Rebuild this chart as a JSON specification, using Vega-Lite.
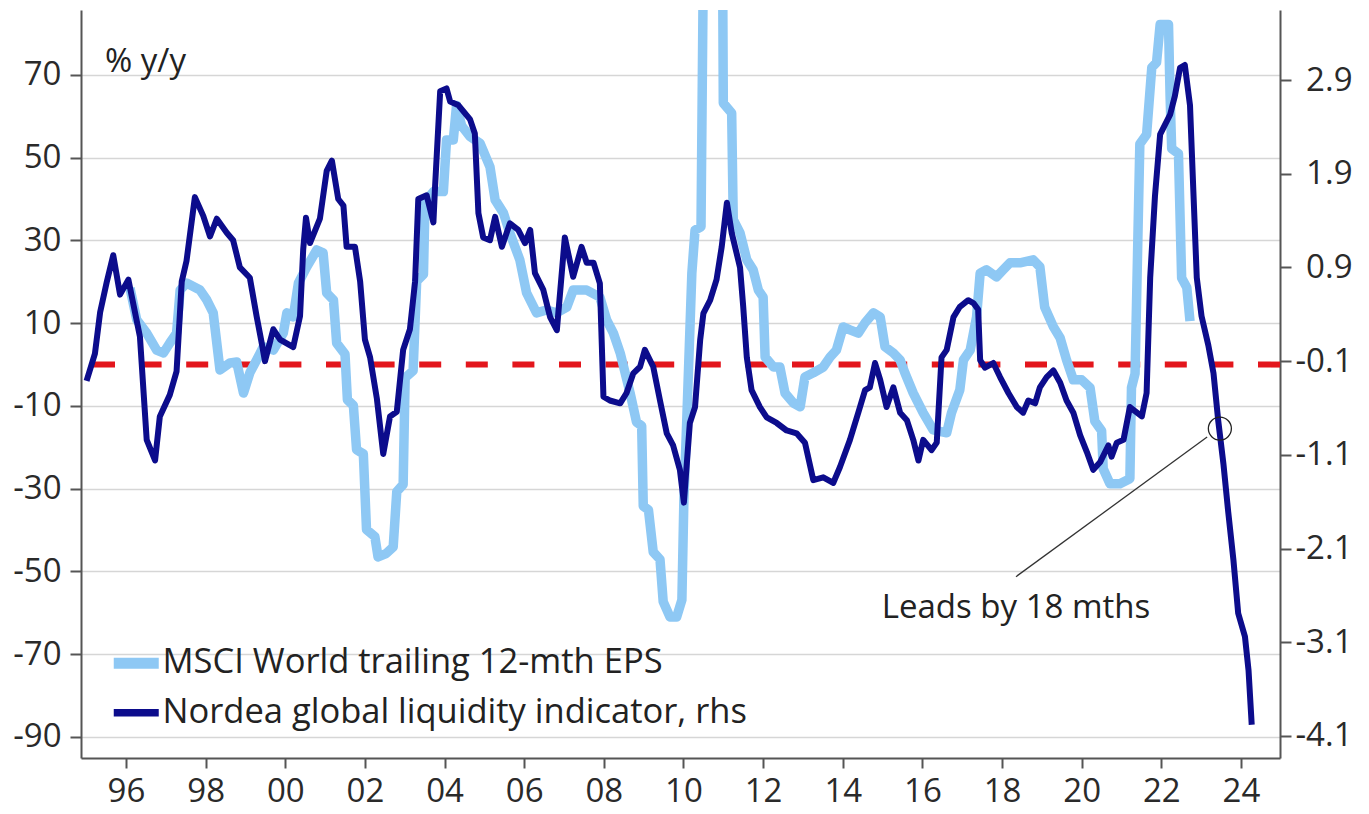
{
  "$schema": "https://vega.github.io/schema/vega-lite/v6.json",
  "width": 1199,
  "height": 748,
  "autosize": "none",
  "padding": {"left": 81, "top": 10, "right": 89, "bottom": 56},
  "background": "white",
  "config": {
    "view": {"stroke": null},
    "font": "Open Sans",
    "axis": {
      "labelFont": "Open Sans", "labelFontSize": 33, "labelColor": "#2a2a2a",
      "domainColor": "#555555", "domainWidth": 2, "tickColor": "#555555", "tickWidth": 2,
      "gridColor": "#d6d6d6", "gridWidth": 1.5, "title": null
    }
  },
  "datasets": {
    "main": [
      {"s":"liq","t":1995.01,"v":-0.31},{"s":"liq","t":1995.22,"v":-0.02},{"s":"liq","t":1995.35,"v":0.42},{"s":"liq","t":1995.52,"v":0.75},{"s":"liq","t":1995.68,"v":1.03},{"s":"liq","t":1995.85,"v":0.61},{"s":"liq","t":1996.06,"v":0.77},{"s":"liq","t":1996.35,"v":0.16},{"s":"liq","t":1996.52,"v":-0.94},{"s":"liq","t":1996.73,"v":-1.16},{"s":"liq","t":1996.85,"v":-0.69},{"s":"liq","t":1997.10,"v":-0.46},{"s":"liq","t":1997.27,"v":-0.21},{"s":"liq","t":1997.40,"v":0.75},{"s":"liq","t":1997.52,"v":0.97},{"s":"liq","t":1997.73,"v":1.65},{"s":"liq","t":1997.94,"v":1.45},{"s":"liq","t":1998.11,"v":1.23},{"s":"liq","t":1998.28,"v":1.42},{"s":"liq","t":1998.53,"v":1.27},{"s":"liq","t":1998.69,"v":1.19},{"s":"liq","t":1998.86,"v":0.90},{"s":"liq","t":1999.11,"v":0.79},{"s":"liq","t":1999.28,"v":0.38},{"s":"liq","t":1999.41,"v":0.09},{"s":"liq","t":1999.49,"v":-0.10},{"s":"liq","t":1999.70,"v":0.24},{"s":"liq","t":1999.87,"v":0.13},{"s":"liq","t":2000.20,"v":0.05},{"s":"liq","t":2000.37,"v":0.38},{"s":"liq","t":2000.45,"v":1.09},{"s":"liq","t":2000.52,"v":1.43},{"s":"liq","t":2000.62,"v":1.16},{"s":"liq","t":2000.87,"v":1.42},{"s":"liq","t":2001.04,"v":1.93},{"s":"liq","t":2001.17,"v":2.04},{"s":"liq","t":2001.33,"v":1.63},{"s":"liq","t":2001.46,"v":1.56},{"s":"liq","t":2001.54,"v":1.12},{"s":"liq","t":2001.75,"v":1.12},{"s":"liq","t":2001.88,"v":0.75},{"s":"liq","t":2002.00,"v":0.13},{"s":"liq","t":2002.13,"v":-0.06},{"s":"liq","t":2002.30,"v":-0.50},{"s":"liq","t":2002.46,"v":-1.09},{"s":"liq","t":2002.63,"v":-0.69},{"s":"liq","t":2002.80,"v":-0.64},{"s":"liq","t":2002.96,"v":0.02},{"s":"liq","t":2003.13,"v":0.24},{"s":"liq","t":2003.26,"v":0.75},{"s":"liq","t":2003.34,"v":1.63},{"s":"liq","t":2003.55,"v":1.67},{"s":"liq","t":2003.72,"v":1.38},{"s":"liq","t":2003.76,"v":1.75},{"s":"liq","t":2003.89,"v":2.78},{"s":"liq","t":2004.05,"v":2.81},{"s":"liq","t":2004.14,"v":2.67},{"s":"liq","t":2004.35,"v":2.63},{"s":"liq","t":2004.64,"v":2.48},{"s":"liq","t":2004.76,"v":2.33},{"s":"liq","t":2004.85,"v":1.48},{"s":"liq","t":2004.97,"v":1.22},{"s":"liq","t":2005.14,"v":1.19},{"s":"liq","t":2005.27,"v":1.44},{"s":"liq","t":2005.44,"v":1.12},{"s":"liq","t":2005.64,"v":1.37},{"s":"liq","t":2005.85,"v":1.30},{"s":"liq","t":2006.02,"v":1.16},{"s":"liq","t":2006.15,"v":1.30},{"s":"liq","t":2006.27,"v":0.84},{"s":"liq","t":2006.48,"v":0.66},{"s":"liq","t":2006.65,"v":0.37},{"s":"liq","t":2006.82,"v":0.23},{"s":"liq","t":2007.02,"v":1.22},{"s":"liq","t":2007.23,"v":0.80},{"s":"liq","t":2007.44,"v":1.12},{"s":"liq","t":2007.57,"v":0.95},{"s":"liq","t":2007.74,"v":0.95},{"s":"liq","t":2007.90,"v":0.73},{"s":"liq","t":2007.99,"v":-0.48},{"s":"liq","t":2008.15,"v":-0.52},{"s":"liq","t":2008.41,"v":-0.55},{"s":"liq","t":2008.57,"v":-0.44},{"s":"liq","t":2008.74,"v":-0.23},{"s":"liq","t":2008.91,"v":-0.16},{"s":"liq","t":2009.03,"v":0.02},{"s":"liq","t":2009.24,"v":-0.16},{"s":"liq","t":2009.41,"v":-0.52},{"s":"liq","t":2009.58,"v":-0.87},{"s":"liq","t":2009.74,"v":-1.00},{"s":"liq","t":2009.91,"v":-1.26},{"s":"liq","t":2010.01,"v":-1.61},{"s":"liq","t":2010.16,"v":-0.76},{"s":"liq","t":2010.29,"v":-0.59},{"s":"liq","t":2010.42,"v":0.13},{"s":"liq","t":2010.50,"v":0.41},{"s":"liq","t":2010.67,"v":0.55},{"s":"liq","t":2010.83,"v":0.77},{"s":"liq","t":2010.96,"v":1.12},{"s":"liq","t":2011.09,"v":1.59},{"s":"liq","t":2011.21,"v":1.27},{"s":"liq","t":2011.42,"v":0.90},{"s":"liq","t":2011.50,"v":0.48},{"s":"liq","t":2011.59,"v":-0.06},{"s":"liq","t":2011.71,"v":-0.41},{"s":"liq","t":2011.92,"v":-0.59},{"s":"liq","t":2012.09,"v":-0.70},{"s":"liq","t":2012.34,"v":-0.76},{"s":"liq","t":2012.59,"v":-0.84},{"s":"liq","t":2012.84,"v":-0.87},{"s":"liq","t":2013.05,"v":-0.97},{"s":"liq","t":2013.26,"v":-1.37},{"s":"liq","t":2013.51,"v":-1.34},{"s":"liq","t":2013.76,"v":-1.40},{"s":"liq","t":2013.93,"v":-1.23},{"s":"liq","t":2014.18,"v":-0.94},{"s":"liq","t":2014.39,"v":-0.65},{"s":"liq","t":2014.56,"v":-0.41},{"s":"liq","t":2014.68,"v":-0.38},{"s":"liq","t":2014.81,"v":-0.12},{"s":"liq","t":2014.94,"v":-0.30},{"s":"liq","t":2015.10,"v":-0.59},{"s":"liq","t":2015.27,"v":-0.38},{"s":"liq","t":2015.44,"v":-0.65},{"s":"liq","t":2015.61,"v":-0.73},{"s":"liq","t":2015.77,"v":-0.94},{"s":"liq","t":2015.90,"v":-1.16},{"s":"liq","t":2016.02,"v":-0.94},{"s":"liq","t":2016.23,"v":-1.05},{"s":"liq","t":2016.36,"v":-0.97},{"s":"liq","t":2016.48,"v":-0.06},{"s":"liq","t":2016.61,"v":0.02},{"s":"liq","t":2016.78,"v":0.37},{"s":"liq","t":2016.94,"v":0.48},{"s":"liq","t":2017.15,"v":0.55},{"s":"liq","t":2017.28,"v":0.52},{"s":"liq","t":2017.40,"v":0.45},{"s":"liq","t":2017.45,"v":-0.09},{"s":"liq","t":2017.57,"v":-0.17},{"s":"liq","t":2017.78,"v":-0.12},{"s":"liq","t":2017.95,"v":-0.27},{"s":"liq","t":2018.16,"v":-0.44},{"s":"liq","t":2018.37,"v":-0.59},{"s":"liq","t":2018.53,"v":-0.65},{"s":"liq","t":2018.66,"v":-0.52},{"s":"liq","t":2018.83,"v":-0.55},{"s":"liq","t":2018.95,"v":-0.38},{"s":"liq","t":2019.12,"v":-0.27},{"s":"liq","t":2019.29,"v":-0.20},{"s":"liq","t":2019.46,"v":-0.33},{"s":"liq","t":2019.62,"v":-0.52},{"s":"liq","t":2019.79,"v":-0.65},{"s":"liq","t":2019.96,"v":-0.89},{"s":"liq","t":2020.13,"v":-1.07},{"s":"liq","t":2020.29,"v":-1.26},{"s":"liq","t":2020.46,"v":-1.18},{"s":"liq","t":2020.67,"v":-1.00},{"s":"liq","t":2020.75,"v":-1.12},{"s":"liq","t":2020.88,"v":-0.97},{"s":"liq","t":2021.05,"v":-0.94},{"s":"liq","t":2021.21,"v":-0.59},{"s":"liq","t":2021.51,"v":-0.69},{"s":"liq","t":2021.63,"v":-0.44},{"s":"liq","t":2021.72,"v":0.79},{"s":"liq","t":2021.84,"v":1.66},{"s":"liq","t":2021.97,"v":2.32},{"s":"liq","t":2022.09,"v":2.42},{"s":"liq","t":2022.22,"v":2.53},{"s":"liq","t":2022.34,"v":2.73},{"s":"liq","t":2022.47,"v":3.03},{"s":"liq","t":2022.59,"v":3.06},{"s":"liq","t":2022.72,"v":2.63},{"s":"liq","t":2022.80,"v":1.76},{"s":"liq","t":2022.89,"v":0.79},{"s":"liq","t":2023.01,"v":0.38},{"s":"liq","t":2023.18,"v":0.07},{"s":"liq","t":2023.31,"v":-0.23},{"s":"liq","t":2023.43,"v":-0.74},{"s":"liq","t":2023.56,"v":-1.20},{"s":"liq","t":2023.68,"v":-1.71},{"s":"liq","t":2023.81,"v":-2.22},{"s":"liq","t":2023.93,"v":-2.79},{"s":"liq","t":2024.10,"v":-3.04},{"s":"liq","t":2024.19,"v":-3.40},{"s":"liq","t":2024.27,"v":-3.98},
      {"s":"eps","t":1996.10,"v":18.5},{"s":"eps","t":1996.27,"v":10.8},{"s":"eps","t":1996.52,"v":7.6},{"s":"eps","t":1996.77,"v":3.5},{"s":"eps","t":1996.94,"v":2.8},{"s":"eps","t":1997.10,"v":5.2},{"s":"eps","t":1997.27,"v":7.6},{"s":"eps","t":1997.36,"v":18.0},{"s":"eps","t":1997.52,"v":19.7},{"s":"eps","t":1997.86,"v":18.0},{"s":"eps","t":1998.03,"v":15.6},{"s":"eps","t":1998.19,"v":12.5},{"s":"eps","t":1998.36,"v":-1.3},{"s":"eps","t":1998.61,"v":0.4},{"s":"eps","t":1998.78,"v":0.6},{"s":"eps","t":1998.95,"v":-6.9},{"s":"eps","t":1999.11,"v":-2.0},{"s":"eps","t":1999.28,"v":1.1},{"s":"eps","t":1999.45,"v":4.3},{"s":"eps","t":1999.70,"v":3.5},{"s":"eps","t":1999.95,"v":7.6},{"s":"eps","t":2000.04,"v":12.5},{"s":"eps","t":2000.20,"v":11.5},{"s":"eps","t":2000.33,"v":19.7},{"s":"eps","t":2000.54,"v":23.6},{"s":"eps","t":2000.79,"v":27.7},{"s":"eps","t":2000.95,"v":27.0},{"s":"eps","t":2001.04,"v":17.3},{"s":"eps","t":2001.21,"v":15.6},{"s":"eps","t":2001.29,"v":5.2},{"s":"eps","t":2001.50,"v":2.5},{"s":"eps","t":2001.56,"v":-8.5},{"s":"eps","t":2001.71,"v":-9.9},{"s":"eps","t":2001.79,"v":-20.6},{"s":"eps","t":2001.96,"v":-21.6},{"s":"eps","t":2002.04,"v":-39.9},{"s":"eps","t":2002.25,"v":-41.6},{"s":"eps","t":2002.33,"v":-46.5},{"s":"eps","t":2002.53,"v":-45.7},{"s":"eps","t":2002.71,"v":-44.1},{"s":"eps","t":2002.80,"v":-30.7},{"s":"eps","t":2002.96,"v":-29.0},{"s":"eps","t":2003.01,"v":-3.2},{"s":"eps","t":2003.21,"v":-1.5},{"s":"eps","t":2003.30,"v":20.2},{"s":"eps","t":2003.47,"v":21.8},{"s":"eps","t":2003.51,"v":39.3},{"s":"eps","t":2003.72,"v":41.8},{"s":"eps","t":2003.97,"v":41.8},{"s":"eps","t":2004.05,"v":54.3},{"s":"eps","t":2004.22,"v":54.3},{"s":"eps","t":2004.30,"v":62.6},{"s":"eps","t":2004.43,"v":57.7},{"s":"eps","t":2004.64,"v":55.1},{"s":"eps","t":2004.89,"v":53.5},{"s":"eps","t":2005.14,"v":47.8},{"s":"eps","t":2005.27,"v":39.8},{"s":"eps","t":2005.48,"v":36.6},{"s":"eps","t":2005.64,"v":31.8},{"s":"eps","t":2005.89,"v":25.3},{"s":"eps","t":2006.06,"v":17.3},{"s":"eps","t":2006.31,"v":12.5},{"s":"eps","t":2006.56,"v":13.2},{"s":"eps","t":2006.81,"v":12.5},{"s":"eps","t":2007.07,"v":13.9},{"s":"eps","t":2007.23,"v":18.0},{"s":"eps","t":2007.57,"v":18.0},{"s":"eps","t":2007.90,"v":16.3},{"s":"eps","t":2008.07,"v":10.8},{"s":"eps","t":2008.24,"v":7.6},{"s":"eps","t":2008.41,"v":2.8},{"s":"eps","t":2008.66,"v":-6.9},{"s":"eps","t":2008.82,"v":-13.9},{"s":"eps","t":2008.95,"v":-14.8},{"s":"eps","t":2008.99,"v":-34.2},{"s":"eps","t":2009.12,"v":-35.1},{"s":"eps","t":2009.24,"v":-45.3},{"s":"eps","t":2009.41,"v":-47.1},{"s":"eps","t":2009.49,"v":-57.3},{"s":"eps","t":2009.66,"v":-61.0},{"s":"eps","t":2009.83,"v":-61.0},{"s":"eps","t":2009.96,"v":-56.9},{"s":"eps","t":2010.01,"v":-32.7},{"s":"eps","t":2010.08,"v":-14.1},{"s":"eps","t":2010.21,"v":22.1},{"s":"eps","t":2010.29,"v":32.5},{"s":"eps","t":2010.44,"v":33.3},{"s":"eps","t":2010.52,"v":120},{"s":"eps","t":2010.97,"v":120},{"s":"eps","t":2011.00,"v":63.2},{"s":"eps","t":2011.21,"v":60.8},{"s":"eps","t":2011.25,"v":35.0},{"s":"eps","t":2011.42,"v":31.8},{"s":"eps","t":2011.59,"v":25.3},{"s":"eps","t":2011.75,"v":22.9},{"s":"eps","t":2011.88,"v":18.0},{"s":"eps","t":2012.00,"v":16.3},{"s":"eps","t":2012.05,"v":1.8},{"s":"eps","t":2012.26,"v":-0.6},{"s":"eps","t":2012.42,"v":-0.6},{"s":"eps","t":2012.55,"v":-6.9},{"s":"eps","t":2012.76,"v":-9.3},{"s":"eps","t":2012.93,"v":-10.2},{"s":"eps","t":2013.05,"v":-3.0},{"s":"eps","t":2013.26,"v":-2.0},{"s":"eps","t":2013.51,"v":-0.6},{"s":"eps","t":2013.68,"v":1.8},{"s":"eps","t":2013.84,"v":3.5},{"s":"eps","t":2014.01,"v":9.1},{"s":"eps","t":2014.18,"v":8.4},{"s":"eps","t":2014.39,"v":7.6},{"s":"eps","t":2014.56,"v":10.1},{"s":"eps","t":2014.77,"v":12.5},{"s":"eps","t":2014.94,"v":11.5},{"s":"eps","t":2015.06,"v":4.3},{"s":"eps","t":2015.27,"v":2.8},{"s":"eps","t":2015.44,"v":1.1},{"s":"eps","t":2015.56,"v":-2.0},{"s":"eps","t":2015.77,"v":-6.9},{"s":"eps","t":2016.02,"v":-11.7},{"s":"eps","t":2016.27,"v":-15.8},{"s":"eps","t":2016.61,"v":-16.5},{"s":"eps","t":2016.73,"v":-11.7},{"s":"eps","t":2016.94,"v":-6.1},{"s":"eps","t":2017.03,"v":1.1},{"s":"eps","t":2017.20,"v":3.5},{"s":"eps","t":2017.36,"v":11.5},{"s":"eps","t":2017.45,"v":22.1},{"s":"eps","t":2017.61,"v":22.9},{"s":"eps","t":2017.86,"v":21.2},{"s":"eps","t":2018.03,"v":22.9},{"s":"eps","t":2018.20,"v":24.6},{"s":"eps","t":2018.45,"v":24.6},{"s":"eps","t":2018.78,"v":25.3},{"s":"eps","t":2018.95,"v":23.6},{"s":"eps","t":2019.07,"v":13.9},{"s":"eps","t":2019.29,"v":9.1},{"s":"eps","t":2019.46,"v":6.4},{"s":"eps","t":2019.62,"v":1.1},{"s":"eps","t":2019.79,"v":-3.7},{"s":"eps","t":2020.00,"v":-3.7},{"s":"eps","t":2020.21,"v":-5.6},{"s":"eps","t":2020.33,"v":-13.7},{"s":"eps","t":2020.50,"v":-16.0},{"s":"eps","t":2020.54,"v":-25.2},{"s":"eps","t":2020.71,"v":-28.8},{"s":"eps","t":2020.96,"v":-28.8},{"s":"eps","t":2021.21,"v":-27.6},{"s":"eps","t":2021.25,"v":-5.6},{"s":"eps","t":2021.34,"v":-2.2},{"s":"eps","t":2021.46,"v":53.3},{"s":"eps","t":2021.63,"v":55.6},{"s":"eps","t":2021.76,"v":71.8},{"s":"eps","t":2021.88,"v":73.0},{"s":"eps","t":2021.97,"v":82.2},{"s":"eps","t":2022.18,"v":82.2},{"s":"eps","t":2022.22,"v":64.9},{"s":"eps","t":2022.26,"v":52.2},{"s":"eps","t":2022.43,"v":51.0},{"s":"eps","t":2022.51,"v":20.9},{"s":"eps","t":2022.64,"v":18.6},{"s":"eps","t":2022.72,"v":10.5}
    ]
  },
  "layer": [
    {
      "layer": [
        {
          "data": {"values": [{"level": 0}]},
          "mark": {"type": "rule", "color": "#e3161c", "strokeWidth": 6, "strokeDash": [22, 24.6]},
          "encoding": {"y": {"field": "level", "type": "quantitative"}}
        },
        {
          "data": {"name": "main"},
          "transform": [{"filter": "datum.s == 'eps'"}],
          "mark": {"type": "line", "strokeWidth": 9.5, "strokeJoin": "round", "clip": true},
          "encoding": {
            "x": {"field": "t", "type": "quantitative",
                  "scale": {"domain": [1994.87, 2024.98], "nice": false, "zero": false},
                  "axis": {"values": [1996,1998,2000,2002,2004,2006,2008,2010,2012,2014,2016,2018,2020,2022,2024],
                           "grid": false, "tickSize": 10, "labelPadding": 7,
                           "labelExpr": "substring(toString(datum.value), 2, 4)"}},
            "y": {"field": "v", "type": "quantitative",
                  "scale": {"domain": [-95.1, 85.7], "nice": false, "zero": false},
                  "axis": {"values": [-90,-70,-50,-30,-10,10,30,50,70], "grid": true, "tickSize": 11, "labelPadding": 9,
                           "labelExpr": "datum.value < 0 ? '-' + format(-datum.value, 'd') : format(datum.value, 'd')"}},
            "color": {"field": "s", "type": "nominal",
                      "scale": {"domain": ["eps", "liq"], "range": ["#8ec8f4", "#0c0c8c"]},
                      "legend": {"title": null, "orient": "none", "legendX": 38, "legendY": 636, "padding": 0,
                                 "labelFont": "Open Sans", "labelFontSize": 34.5, "labelColor": "#222222",
                                 "symbolType": "stroke", "symbolSize": 2025, "labelOffset": 9, "rowPadding": 8.5,
                                 "labelLimit": 800,
                                 "labelExpr": "datum.label == 'eps' ? 'MSCI World trailing 12-mth EPS' : 'Nordea global liquidity indicator, rhs'",
                                 "encode": {"symbols": {"update": {"strokeWidth": {"signal": "datum.value == 'eps' ? 11 : 7.5"}}}}}}
          }
        },
        {
          "data": {"values": [{"t": 1995.47, "v": 70.7, "label": "% y/y"}]},
          "mark": {"type": "text", "align": "left", "baseline": "alphabetic", "fontSize": 33, "font": "Open Sans", "color": "#222222"},
          "encoding": {
            "x": {"field": "t", "type": "quantitative"},
            "y": {"field": "v", "type": "quantitative"},
            "text": {"field": "label"}
          }
        }
      ]
    },
    {
      "layer": [
        {
          "data": {"name": "main"},
          "transform": [{"filter": "datum.s == 'liq'"}],
          "mark": {"type": "line", "strokeWidth": 6, "strokeJoin": "round"},
          "encoding": {
            "x": {"field": "t", "type": "quantitative"},
            "y": {"field": "v", "type": "quantitative",
                  "scale": {"domain": [-4.335, 3.647], "nice": false, "zero": false},
                  "axis": {"orient": "right", "values": [2.9,1.9,0.9,-0.1,-1.1,-2.1,-3.1,-4.1], "grid": false, "tickSize": 11,
                           "labelPadding": 61, "labelAlign": "right",
                           "labelExpr": "datum.value < 0 ? '-' + format(-datum.value, '.1f') : format(datum.value, '.1f')"}},
            "color": {"field": "s", "type": "nominal"}
          }
        },
        {
          "data": {"values": [{"t": 2023.15, "v": -0.91, "t2": 2018.35, "v2": -2.40}]},
          "mark": {"type": "rule", "color": "#333333", "strokeWidth": 1.3},
          "encoding": {
            "x": {"field": "t", "type": "quantitative"},
            "y": {"field": "v", "type": "quantitative"},
            "x2": {"field": "t2"},
            "y2": {"field": "v2"}
          }
        },
        {
          "data": {"values": [{"t": 2023.47, "v": -0.82}]},
          "mark": {"type": "point", "shape": "circle", "size": 530, "filled": false, "stroke": "#222222", "strokeWidth": 1.3, "opacity": 1},
          "encoding": {
            "x": {"field": "t", "type": "quantitative"},
            "y": {"field": "v", "type": "quantitative"}
          }
        },
        {
          "data": {"values": [{"t": 2018.35, "v": -2.84, "label": "Leads by 18 mths"}]},
          "mark": {"type": "text", "align": "center", "baseline": "alphabetic", "fontSize": 33, "font": "Open Sans", "color": "#222222"},
          "encoding": {
            "x": {"field": "t", "type": "quantitative"},
            "y": {"field": "v", "type": "quantitative"},
            "text": {"field": "label"}
          }
        }
      ]
    }
  ],
  "resolve": {"scale": {"y": "independent"}, "axis": {"y": "independent"}}
}
